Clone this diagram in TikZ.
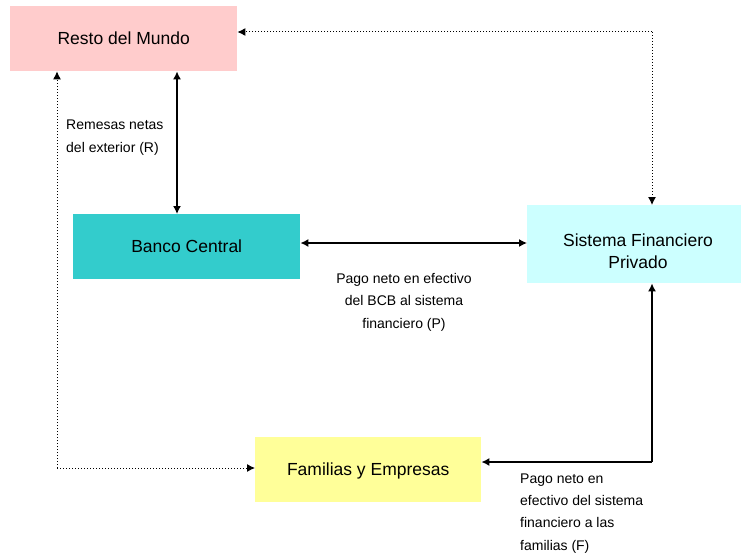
\documentclass[tikz,border=0pt]{standalone}
\usepackage{fontspec}
\setmainfont{Liberation Sans}
\usetikzlibrary{arrows.meta}
\definecolor{rmpink}{HTML}{FFCCCC}
\definecolor{bcteal}{HTML}{33CCCC}
\definecolor{sfcyan}{HTML}{CCFFFF}
\definecolor{feyellow}{HTML}{FFFF99}
\begin{document}
\begin{tikzpicture}[x=1pt,y=-1pt,
  box/.style={rectangle, inner sep=0pt, anchor=north west, align=center, font=\fontsize{17.5}{22}\selectfont},
  lbl/.style={inner sep=0pt, align=left, font=\fontsize{14}{22.3}\selectfont},
  solidarr/.style={line width=1.4pt, -{Latex[length=8pt,width=8pt]}},
  dualarr/.style={line width=1.4pt, {Latex[length=8pt,width=8pt]}-{Latex[length=8pt,width=8pt]}},
  dotarr/.style={line width=1pt, dotted, -{Latex[length=8pt,width=8pt]}}]
\useasboundingbox (0,0) rectangle (741,559);
\node[box, fill=rmpink, minimum width=227pt, minimum height=65pt, text depth=2pt] (rm) at (10,6) {Resto del Mundo};
\node[box, fill=bcteal, minimum width=227pt, minimum height=65pt, text depth=2pt] (bc) at (73,214) {Banco Central};
\node[box, fill=sfcyan, minimum width=214pt, minimum height=78pt, text width=214pt] (sf) at (527,205) {};
\node[font=\fontsize{17.5}{22}\selectfont, align=center, inner sep=0pt] (sft) at (638,251) {Sistema Financiero\\Privado};
\node[box, fill=feyellow, minimum width=226pt, minimum height=65pt, text depth=2pt] (fe) at (255,437) {Familias y Empresas};

\coordinate (c1) at (652,32);
\coordinate (c2) at (57,468);
\coordinate (c3) at (652,462);

\draw[dualarr] (rm.south -| 177,0) -- (bc.north -| 177,0);
\draw[dualarr] (bc.east |- 0,243) -- (sf.west |- 0,243);
\draw[line width=1.4pt, {Latex[length=8pt,width=8pt]}-] (sf.south -| c3) -- (c3);
\draw[solidarr] (c3) -- (fe.east |- c3);
\draw[dotarr] (c1) -- (rm.east |- c1);
\draw[dotarr] (c1) -- (sf.north -| c1);
\draw[dotarr] (c2) -- (rm.south -| c2);
\draw[dotarr] (c2) -- (fe.west |- c2);

\node[lbl, anchor=base west] (lr) at (66,152) {Remesas netas\\del exterior (R)};
\node[lbl, align=center, anchor=base] (lp) at (404,328) {Pago neto en efectivo\\del BCB al sistema\\financiero (P)};
\node[lbl, anchor=base west] (lf) at (520,550) {Pago neto en\\efectivo del sistema\\financiero a las\\familias (F)};
\end{tikzpicture}
\end{document}
